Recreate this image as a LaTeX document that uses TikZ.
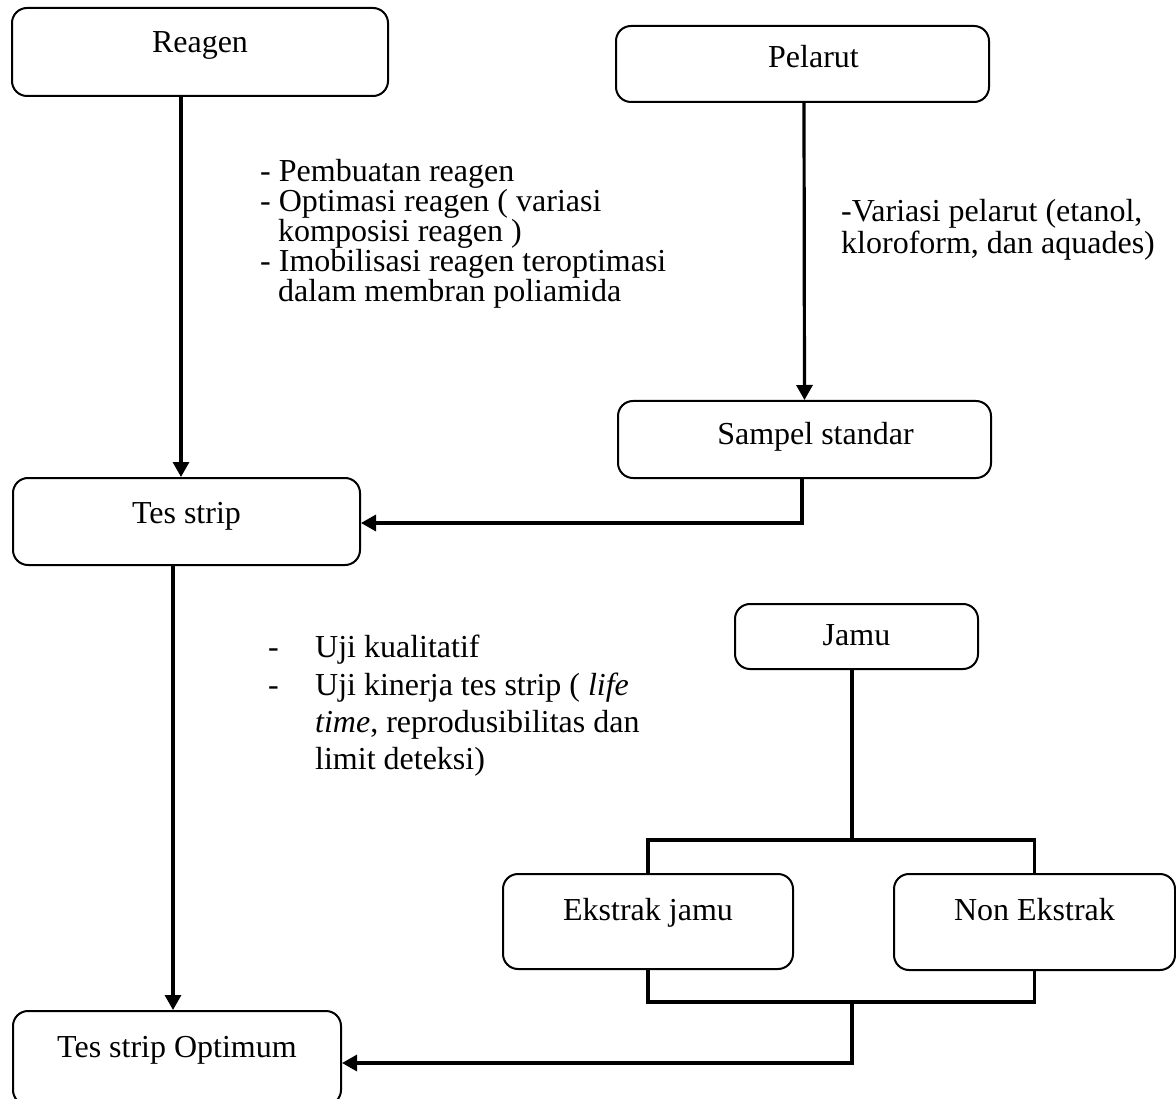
\documentclass[tikz,border=0pt]{standalone}
\usepackage{fontspec}
\setmainfont{Liberation Serif}
\usetikzlibrary{arrows.meta}
\begin{document}
\begin{tikzpicture}[x=1pt,y=-1pt,
  every node/.style={font=\fontsize{32}{36}\selectfont},
  box/.style={draw, line width=2pt, rounded corners=15pt, inner sep=0pt,
    text height=22pt, text depth=#1, anchor=north west},
  txt/.style={anchor=base west, inner sep=0pt},
  conn/.style={line width=3.2pt},
  arr/.style={conn, -{Triangle[length=15pt,width=16pt]}}]
\useasboundingbox (0,0) rectangle (1176,1099);
\clip (0,0) rectangle (1176,1099);
\fill[white] (0,0) rectangle (1176,1099);

% boxes
\node[box=20pt, minimum width=376pt, minimum height=88pt] (reagen) at (11,7) {Reagen};
\node[box=14pt, minimum width=373pt, minimum height=76pt] (pelarut) at (615,25) {\hspace*{22pt}Pelarut};
\node[box=13pt, minimum width=373pt, minimum height=77pt] (sampel) at (617,400) {\hspace*{22pt}Sampel standar};
\node[box=19pt, minimum width=347pt, minimum height=87pt] (tes) at (12,477) {Tes strip};
\node[box=5pt, minimum width=243pt, minimum height=65pt] (jamu) at (734,603) {Jamu};
\node[box=25pt, minimum width=290pt, minimum height=95pt] (ekstrak) at (502,873) {Ekstrak jamu};
\node[box=26pt, minimum width=281pt, minimum height=96pt] (non) at (893,873) {Non Ekstrak};
\node[box=24pt, minimum width=328pt, minimum height=94pt] (opt) at (12,1010) {Tes strip Optimum};

% texts
\node[txt] (a1) at (260,182) {- Pembuatan reagen};
\node[txt] (a2) at (260,212) {- Optimasi reagen ( variasi};
\node[txt] (a3) at (278,242) {komposisi reagen )};
\node[txt] (a4) at (260,272) {- Imobilisasi reagen teroptimasi};
\node[txt] (a5) at (278,302) {dalam membran poliamida};

\node[txt] (b1) at (841,222) {-Variasi pelarut (etanol,};
\node[txt] (b2) at (841,254) {kloroform, dan aquades)};

\node[txt] (c0) at (268,657) {-};
\node[txt] (c1) at (315,657) {Uji kualitatif};
\node[txt] (c2) at (268,695) {-};
\node[txt] (c3) at (315,695) {Uji kinerja tes strip ( \textit{life}};
\node[txt] (c4) at (315,732) {\textit{time},  reprodusibilitas dan};
\node[txt] (c5) at (315,769) {limit deteksi)};

% connectors
\draw[arr] ([xshift=-19pt]reagen.south) -- ([xshift=-5.5pt]tes.north);
\draw[arr] ([xshift=1.5pt]pelarut.south) -- (sampel.north);
\draw[arr] ([xshift=-2.5pt]sampel.south) |- ([yshift=-1.5pt]tes.east);
\draw[arr] ([xshift=-13.5pt]tes.south) -- ([xshift=-4pt]opt.north);

\coordinate (split) at ([xshift=-4.5pt]jamu.south |- 0,840);
\draw[conn] ([xshift=-4.5pt]jamu.south) -- (split);
\draw[conn] (ekstrak.north) -- (ekstrak.north |- split) -- (non.north |- split) -- (non.north);
\coordinate (join) at (split |- 0,1002);
\draw[conn] (ekstrak.south) -- (ekstrak.south |- join) -- (non.south |- join) -- (non.south);
\draw[arr] (join) |- ([yshift=-5pt]opt.east);
\end{tikzpicture}
\end{document}
